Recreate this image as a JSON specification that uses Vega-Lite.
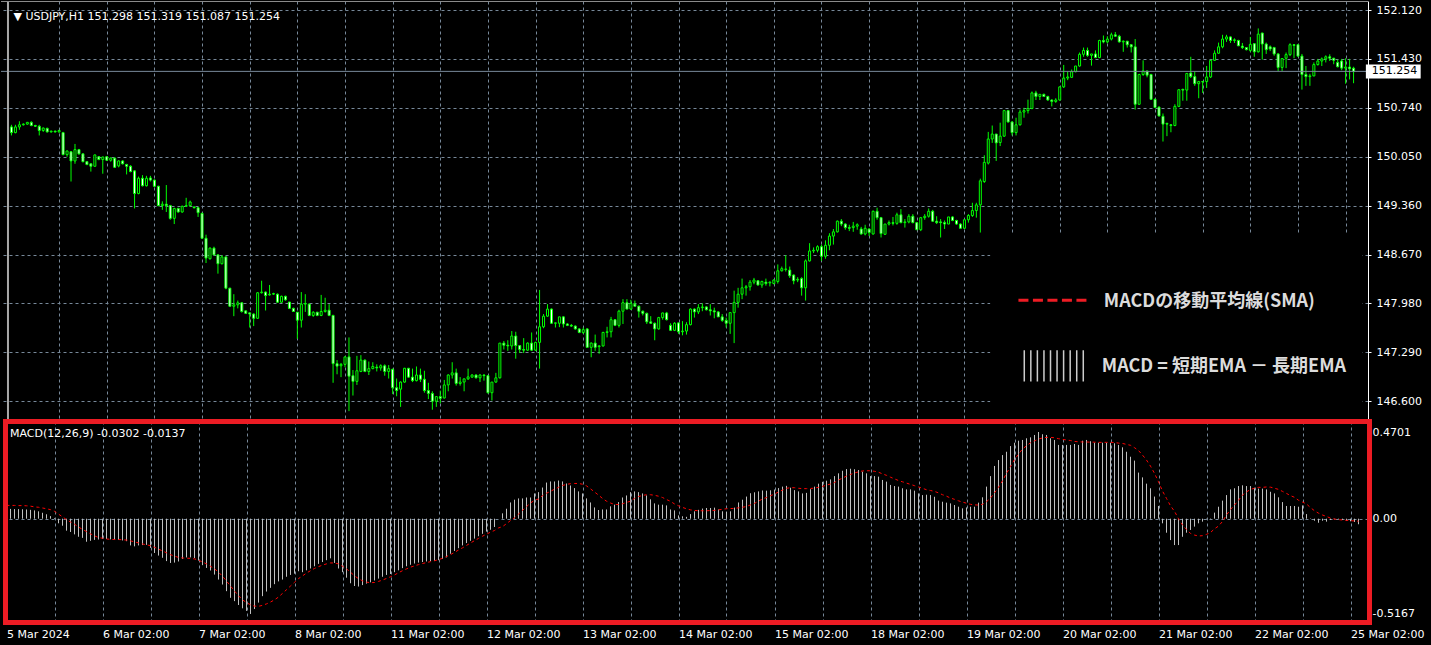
{
"$schema": "https://vega.github.io/schema/vega-lite/v6.json",
"background": "#000000",
"padding": {"left": 0, "top": 0, "right": 12, "bottom": 14},
"spacing": 2,
"bounds": "flush",
"config": {
  "view": {"stroke": null},
  "axis": {"labelFont": "DejaVu Sans", "labelFontSize": 11, "labelColor": "#ffffff", "gridColor": "#778899", "gridDash": [3, 3], "gridWidth": 1, "gridOpacity": 1, "domainColor": "#ffffff", "tickColor": "#ffffff"}
},
"datasets": {"bars": [
{"i":0,"o":150.47,"h":150.5,"l":150.35,"c":150.39,"m":0.053,"s":0.072},
{"i":1,"o":150.39,"h":150.5,"l":150.38,"c":150.47,"m":0.053,"s":0.072},
{"i":2,"o":150.47,"h":150.55,"l":150.43,"c":150.5,"m":0.052,"s":0.072},
{"i":3,"o":150.5,"h":150.52,"l":150.49,"c":150.51,"m":0.052,"s":0.071},
{"i":4,"o":150.51,"h":150.54,"l":150.5,"c":150.535,"m":0.051,"s":0.071},
{"i":5,"o":150.535,"h":150.55,"l":150.48,"c":150.49,"m":0.05,"s":0.07},
{"i":6,"o":150.49,"h":150.5,"l":150.47,"c":150.48,"m":0.048,"s":0.068},
{"i":7,"o":150.48,"h":150.5,"l":150.35,"c":150.42,"m":0.045,"s":0.064},
{"i":8,"o":150.42,"h":150.46,"l":150.4,"c":150.455,"m":0.04,"s":0.062},
{"i":9,"o":150.45,"h":150.46,"l":150.39,"c":150.4,"m":0.032,"s":0.058},
{"i":10,"o":150.4,"h":150.42,"l":150.39,"c":150.41,"m":0.024,"s":0.054},
{"i":11,"o":150.41,"h":150.42,"l":150.39,"c":150.4,"m":0.014,"s":0.049},
{"i":12,"o":150.4,"h":150.43,"l":150.39,"c":150.42,"m":0.004,"s":0.04},
{"i":13,"o":150.39,"h":150.4,"l":150.07,"c":150.08,"m":-0.025,"s":0.025},
{"i":14,"o":150.08,"h":150.14,"l":150.05,"c":150.13,"m":-0.038,"s":0.01},
{"i":15,"o":150.12,"h":150.13,"l":149.7,"c":149.99,"m":-0.065,"s":-0.005},
{"i":16,"o":149.99,"h":150.23,"l":149.95,"c":150.15,"m":-0.072,"s":-0.018},
{"i":17,"o":150.15,"h":150.16,"l":150.08,"c":150.09,"m":-0.085,"s":-0.03},
{"i":18,"o":150.09,"h":150.1,"l":149.97,"c":149.98,"m":-0.098,"s":-0.045},
{"i":19,"o":149.98,"h":149.99,"l":149.93,"c":149.94,"m":-0.104,"s":-0.058},
{"i":20,"o":149.95,"h":149.96,"l":149.84,"c":149.915,"m":-0.125,"s":-0.07},
{"i":21,"o":149.915,"h":150.08,"l":149.91,"c":150.075,"m":-0.12,"s":-0.082},
{"i":22,"o":150.05,"h":150.06,"l":150.0,"c":150.01,"m":-0.115,"s":-0.093},
{"i":23,"o":150.01,"h":150.05,"l":149.81,"c":150.046,"m":-0.113,"s":-0.102},
{"i":24,"o":150.05,"h":150.06,"l":149.99,"c":150.0,"m":-0.11,"s":-0.106},
{"i":25,"o":150.0,"h":150.04,"l":149.98,"c":150.03,"m":-0.11,"s":-0.11},
{"i":26,"o":150.03,"h":150.04,"l":149.89,"c":149.9,"m":-0.112,"s":-0.112},
{"i":27,"o":149.92,"h":150.0,"l":149.9,"c":149.99,"m":-0.113,"s":-0.113},
{"i":28,"o":149.99,"h":150.0,"l":149.94,"c":149.95,"m":-0.115,"s":-0.113},
{"i":29,"o":149.94,"h":149.95,"l":149.8,"c":149.915,"m":-0.118,"s":-0.114},
{"i":30,"o":149.915,"h":149.93,"l":149.83,"c":149.84,"m":-0.122,"s":-0.116},
{"i":31,"o":149.85,"h":149.86,"l":149.32,"c":149.53,"m":-0.145,"s":-0.12},
{"i":32,"o":149.53,"h":149.77,"l":149.52,"c":149.746,"m":-0.15,"s":-0.126},
{"i":33,"o":149.746,"h":149.79,"l":149.63,"c":149.64,"m":-0.145,"s":-0.131},
{"i":34,"o":149.64,"h":149.78,"l":149.63,"c":149.746,"m":-0.143,"s":-0.137},
{"i":35,"o":149.75,"h":149.78,"l":149.7,"c":149.72,"m":-0.142,"s":-0.142},
{"i":36,"o":149.72,"h":149.73,"l":149.62,"c":149.633,"m":-0.158,"s":-0.146},
{"i":37,"o":149.633,"h":149.64,"l":149.35,"c":149.36,"m":-0.186,"s":-0.155},
{"i":38,"o":149.36,"h":149.42,"l":149.3,"c":149.38,"m":-0.2,"s":-0.165},
{"i":39,"o":149.38,"h":149.65,"l":149.27,"c":149.36,"m":-0.212,"s":-0.175},
{"i":40,"o":149.36,"h":149.37,"l":149.16,"c":149.18,"m":-0.23,"s":-0.185},
{"i":41,"o":149.18,"h":149.33,"l":149.1,"c":149.32,"m":-0.24,"s":-0.195},
{"i":42,"o":149.32,"h":149.33,"l":149.26,"c":149.27,"m":-0.238,"s":-0.203},
{"i":43,"o":149.27,"h":149.36,"l":149.26,"c":149.35,"m":-0.232,"s":-0.21},
{"i":44,"o":149.35,"h":149.47,"l":149.34,"c":149.36,"m":-0.218,"s":-0.213},
{"i":45,"o":149.36,"h":149.43,"l":149.35,"c":149.41,"m":-0.21,"s":-0.214},
{"i":46,"o":149.34,"h":149.35,"l":149.32,"c":149.33,"m":-0.21,"s":-0.215},
{"i":47,"o":149.33,"h":149.34,"l":149.2,"c":149.26,"m":-0.213,"s":-0.218},
{"i":48,"o":149.25,"h":149.26,"l":148.89,"c":148.9,"m":-0.227,"s":-0.225},
{"i":49,"o":148.9,"h":148.95,"l":148.55,"c":148.62,"m":-0.252,"s":-0.235},
{"i":50,"o":148.61,"h":148.77,"l":148.6,"c":148.76,"m":-0.267,"s":-0.245},
{"i":51,"o":148.76,"h":148.78,"l":148.66,"c":148.665,"m":-0.281,"s":-0.258},
{"i":52,"o":148.665,"h":148.67,"l":148.4,"c":148.54,"m":-0.303,"s":-0.272},
{"i":53,"o":148.54,"h":148.66,"l":148.53,"c":148.636,"m":-0.33,"s":-0.29},
{"i":54,"o":148.636,"h":148.64,"l":148.18,"c":148.195,"m":-0.357,"s":-0.312},
{"i":55,"o":148.195,"h":148.2,"l":147.93,"c":147.94,"m":-0.393,"s":-0.338},
{"i":56,"o":147.94,"h":148.11,"l":147.8,"c":147.96,"m":-0.429,"s":-0.365},
{"i":57,"o":147.96,"h":148.02,"l":147.91,"c":147.988,"m":-0.447,"s":-0.392},
{"i":58,"o":147.988,"h":148.0,"l":147.85,"c":147.866,"m":-0.468,"s":-0.418},
{"i":59,"o":147.875,"h":147.88,"l":147.83,"c":147.84,"m":-0.486,"s":-0.44},
{"i":60,"o":147.847,"h":147.85,"l":147.64,"c":147.83,"m":-0.5,"s":-0.455},
{"i":61,"o":147.83,"h":147.84,"l":147.66,"c":147.77,"m":-0.5167,"s":-0.467},
{"i":62,"o":147.77,"h":148.14,"l":147.76,"c":148.13,"m":-0.49,"s":-0.474},
{"i":63,"o":148.13,"h":148.3,"l":148.12,"c":148.14,"m":-0.455,"s":-0.475},
{"i":64,"o":148.14,"h":148.15,"l":147.88,"c":148.09,"m":-0.42,"s":-0.47},
{"i":65,"o":148.1,"h":148.24,"l":148.09,"c":148.11,"m":-0.395,"s":-0.462},
{"i":66,"o":148.11,"h":148.13,"l":148.1,"c":148.12,"m":-0.375,"s":-0.452},
{"i":67,"o":148.11,"h":148.12,"l":147.99,"c":147.997,"m":-0.355,"s":-0.44},
{"i":68,"o":147.997,"h":148.09,"l":147.99,"c":148.08,"m":-0.34,"s":-0.425},
{"i":69,"o":148.08,"h":148.09,"l":148.02,"c":148.03,"m":-0.33,"s":-0.405},
{"i":70,"o":148.0,"h":148.0,"l":147.9,"c":147.91,"m":-0.315,"s":-0.385},
{"i":71,"o":147.91,"h":147.92,"l":147.86,"c":147.866,"m":-0.305,"s":-0.365},
{"i":72,"o":147.856,"h":147.86,"l":147.48,"c":147.743,"m":-0.298,"s":-0.345},
{"i":73,"o":147.743,"h":148.14,"l":147.64,"c":147.97,"m":-0.285,"s":-0.325},
{"i":74,"o":147.97,"h":148.11,"l":147.86,"c":147.978,"m":-0.29,"s":-0.31},
{"i":75,"o":147.97,"h":147.98,"l":147.8,"c":147.81,"m":-0.28,"s":-0.295},
{"i":76,"o":147.81,"h":147.87,"l":147.79,"c":147.856,"m":-0.27,"s":-0.282},
{"i":77,"o":147.856,"h":147.86,"l":147.8,"c":147.81,"m":-0.258,"s":-0.27},
{"i":78,"o":147.81,"h":148.1,"l":147.8,"c":147.866,"m":-0.245,"s":-0.26},
{"i":79,"o":147.866,"h":148.06,"l":147.85,"c":147.884,"m":-0.235,"s":-0.252},
{"i":80,"o":147.884,"h":147.97,"l":147.8,"c":147.81,"m":-0.225,"s":-0.245},
{"i":81,"o":147.81,"h":147.82,"l":146.86,"c":147.13,"m":-0.215,"s":-0.24},
{"i":82,"o":147.13,"h":147.18,"l":146.98,"c":147.095,"m":-0.24,"s":-0.24},
{"i":83,"o":147.1,"h":147.14,"l":146.94,"c":147.12,"m":-0.27,"s":-0.245},
{"i":84,"o":147.12,"h":147.23,"l":147.08,"c":147.225,"m":-0.29,"s":-0.258},
{"i":85,"o":147.225,"h":147.5,"l":146.46,"c":146.953,"m":-0.32,"s":-0.272},
{"i":86,"o":146.96,"h":147.04,"l":146.68,"c":146.88,"m":-0.35,"s":-0.29},
{"i":87,"o":146.88,"h":147.24,"l":146.83,"c":147.03,"m":-0.365,"s":-0.31},
{"i":88,"o":147.02,"h":147.25,"l":147.01,"c":147.18,"m":-0.368,"s":-0.325},
{"i":89,"o":147.18,"h":147.19,"l":147.01,"c":147.02,"m":-0.36,"s":-0.337},
{"i":90,"o":147.02,"h":147.16,"l":146.97,"c":147.06,"m":-0.352,"s":-0.344},
{"i":91,"o":147.06,"h":147.15,"l":147.05,"c":147.09,"m":-0.345,"s":-0.347},
{"i":92,"o":147.08,"h":147.12,"l":147.02,"c":147.07,"m":-0.335,"s":-0.346},
{"i":93,"o":147.07,"h":147.12,"l":147.03,"c":147.1,"m":-0.325,"s":-0.34},
{"i":94,"o":147.1,"h":147.12,"l":146.96,"c":147.02,"m":-0.315,"s":-0.333},
{"i":95,"o":147.02,"h":147.11,"l":146.92,"c":147.06,"m":-0.305,"s":-0.324},
{"i":96,"o":147.05,"h":147.06,"l":146.7,"c":146.79,"m":-0.3,"s":-0.315},
{"i":97,"o":146.79,"h":146.92,"l":146.67,"c":146.75,"m":-0.29,"s":-0.305},
{"i":98,"o":146.77,"h":146.88,"l":146.52,"c":146.87,"m":-0.28,"s":-0.293},
{"i":99,"o":146.87,"h":147.07,"l":146.86,"c":147.065,"m":-0.268,"s":-0.282},
{"i":100,"o":147.065,"h":147.07,"l":146.93,"c":146.94,"m":-0.258,"s":-0.272},
{"i":101,"o":146.94,"h":147.06,"l":146.87,"c":146.89,"m":-0.25,"s":-0.263},
{"i":102,"o":146.89,"h":147.09,"l":146.88,"c":146.97,"m":-0.243,"s":-0.256},
{"i":103,"o":146.97,"h":147.06,"l":146.87,"c":146.91,"m":-0.238,"s":-0.249},
{"i":104,"o":146.91,"h":147.03,"l":146.72,"c":146.75,"m":-0.235,"s":-0.243},
{"i":105,"o":146.75,"h":146.86,"l":146.63,"c":146.71,"m":-0.232,"s":-0.238},
{"i":106,"o":146.71,"h":146.74,"l":146.48,"c":146.6,"m":-0.23,"s":-0.233},
{"i":107,"o":146.6,"h":146.67,"l":146.52,"c":146.665,"m":-0.228,"s":-0.228},
{"i":108,"o":146.665,"h":146.75,"l":146.57,"c":146.64,"m":-0.225,"s":-0.222},
{"i":109,"o":146.645,"h":146.9,"l":146.64,"c":146.83,"m":-0.218,"s":-0.215},
{"i":110,"o":146.83,"h":146.98,"l":146.74,"c":146.97,"m":-0.21,"s":-0.205},
{"i":111,"o":146.97,"h":147.15,"l":146.92,"c":147.0,"m":-0.19,"s":-0.195},
{"i":112,"o":147.0,"h":147.06,"l":146.82,"c":146.85,"m":-0.175,"s":-0.183},
{"i":113,"o":146.85,"h":146.94,"l":146.82,"c":146.87,"m":-0.16,"s":-0.17},
{"i":114,"o":146.87,"h":146.92,"l":146.74,"c":146.915,"m":-0.145,"s":-0.158},
{"i":115,"o":146.915,"h":147.06,"l":146.9,"c":146.943,"m":-0.132,"s":-0.145},
{"i":116,"o":146.94,"h":146.98,"l":146.93,"c":146.97,"m":-0.12,"s":-0.132},
{"i":117,"o":146.97,"h":146.98,"l":146.92,"c":146.93,"m":-0.108,"s":-0.119},
{"i":118,"o":146.93,"h":146.98,"l":146.87,"c":146.97,"m":-0.095,"s":-0.107},
{"i":119,"o":146.97,"h":146.98,"l":146.89,"c":146.96,"m":-0.082,"s":-0.095},
{"i":120,"o":146.96,"h":146.97,"l":146.71,"c":146.72,"m":-0.07,"s":-0.084},
{"i":121,"o":146.72,"h":146.87,"l":146.61,"c":146.87,"m":-0.06,"s":-0.073},
{"i":122,"o":146.87,"h":147.0,"l":146.86,"c":146.93,"m":-0.045,"s":-0.064},
{"i":123,"o":146.93,"h":147.42,"l":146.92,"c":147.42,"m":0.0,"s":-0.05},
{"i":124,"o":147.42,"h":147.45,"l":147.33,"c":147.39,"m":0.029,"s":-0.043},
{"i":125,"o":147.39,"h":147.46,"l":147.31,"c":147.38,"m":0.054,"s":-0.027},
{"i":126,"o":147.38,"h":147.59,"l":147.33,"c":147.52,"m":0.088,"s":-0.01},
{"i":127,"o":147.52,"h":147.58,"l":147.2,"c":147.385,"m":0.103,"s":0.005},
{"i":128,"o":147.385,"h":147.39,"l":147.28,"c":147.33,"m":0.11,"s":0.025},
{"i":129,"o":147.33,"h":147.49,"l":147.28,"c":147.32,"m":0.11,"s":0.045},
{"i":130,"o":147.32,"h":147.43,"l":147.31,"c":147.42,"m":0.115,"s":0.065},
{"i":131,"o":147.42,"h":147.57,"l":147.31,"c":147.32,"m":0.115,"s":0.085},
{"i":132,"o":147.32,"h":147.44,"l":147.31,"c":147.43,"m":0.137,"s":0.1},
{"i":133,"o":147.43,"h":148.17,"l":147.06,"c":147.65,"m":0.144,"s":0.107},
{"i":134,"o":147.65,"h":147.83,"l":147.63,"c":147.8,"m":0.169,"s":0.125},
{"i":135,"o":147.8,"h":147.97,"l":147.79,"c":147.9,"m":0.196,"s":0.138},
{"i":136,"o":147.9,"h":147.91,"l":147.69,"c":147.7,"m":0.202,"s":0.148},
{"i":137,"o":147.7,"h":147.71,"l":147.64,"c":147.705,"m":0.202,"s":0.16},
{"i":138,"o":147.7,"h":147.79,"l":147.645,"c":147.79,"m":0.207,"s":0.17},
{"i":139,"o":147.79,"h":147.8,"l":147.64,"c":147.69,"m":0.202,"s":0.18},
{"i":140,"o":147.69,"h":147.7,"l":147.66,"c":147.67,"m":0.191,"s":0.186},
{"i":141,"o":147.67,"h":147.69,"l":147.65,"c":147.66,"m":0.18,"s":0.19},
{"i":142,"o":147.66,"h":147.67,"l":147.61,"c":147.62,"m":0.166,"s":0.191},
{"i":143,"o":147.62,"h":147.63,"l":147.56,"c":147.57,"m":0.148,"s":0.191},
{"i":144,"o":147.57,"h":147.64,"l":147.55,"c":147.61,"m":0.137,"s":0.187},
{"i":145,"o":147.62,"h":147.63,"l":147.36,"c":147.36,"m":0.11,"s":0.178},
{"i":146,"o":147.36,"h":147.43,"l":147.22,"c":147.42,"m":0.088,"s":0.162},
{"i":147,"o":147.42,"h":147.54,"l":147.31,"c":147.36,"m":0.061,"s":0.145},
{"i":148,"o":147.37,"h":147.39,"l":147.27,"c":147.38,"m":0.047,"s":0.128},
{"i":149,"o":147.38,"h":147.58,"l":147.37,"c":147.57,"m":0.05,"s":0.11},
{"i":150,"o":147.57,"h":147.65,"l":147.5,"c":147.58,"m":0.05,"s":0.095},
{"i":151,"o":147.58,"h":147.79,"l":147.5,"c":147.75,"m":0.067,"s":0.085},
{"i":152,"o":147.75,"h":147.76,"l":147.66,"c":147.67,"m":0.076,"s":0.077},
{"i":153,"o":147.67,"h":147.89,"l":147.64,"c":147.87,"m":0.09,"s":0.077},
{"i":154,"o":147.87,"h":148.04,"l":147.69,"c":147.99,"m":0.115,"s":0.081},
{"i":155,"o":147.99,"h":148.04,"l":147.9,"c":147.9,"m":0.126,"s":0.088},
{"i":156,"o":147.9,"h":148.03,"l":147.89,"c":147.98,"m":0.144,"s":0.095},
{"i":157,"o":147.97,"h":148.02,"l":147.94,"c":147.94,"m":0.148,"s":0.11},
{"i":158,"o":147.94,"h":147.95,"l":147.78,"c":147.87,"m":0.144,"s":0.12},
{"i":159,"o":147.87,"h":147.88,"l":147.81,"c":147.84,"m":0.137,"s":0.126},
{"i":160,"o":147.84,"h":147.85,"l":147.69,"c":147.72,"m":0.126,"s":0.13},
{"i":161,"o":147.72,"h":147.8,"l":147.69,"c":147.7,"m":0.105,"s":0.13},
{"i":162,"o":147.7,"h":147.71,"l":147.46,"c":147.62,"m":0.083,"s":0.127},
{"i":163,"o":147.62,"h":147.79,"l":147.61,"c":147.78,"m":0.076,"s":0.122},
{"i":164,"o":147.78,"h":147.85,"l":147.75,"c":147.845,"m":0.076,"s":0.115},
{"i":165,"o":147.845,"h":147.86,"l":147.74,"c":147.75,"m":0.072,"s":0.104},
{"i":166,"o":147.67,"h":147.7,"l":147.59,"c":147.6,"m":0.05,"s":0.094},
{"i":167,"o":147.6,"h":147.715,"l":147.59,"c":147.7,"m":0.045,"s":0.08},
{"i":168,"o":147.705,"h":147.71,"l":147.55,"c":147.58,"m":0.018,"s":0.07},
{"i":169,"o":147.58,"h":147.73,"l":147.53,"c":147.59,"m":0.013,"s":0.061},
{"i":170,"o":147.59,"h":147.715,"l":147.54,"c":147.68,"m":0.01,"s":0.054},
{"i":171,"o":147.68,"h":147.91,"l":147.67,"c":147.9,"m":0.025,"s":0.048},
{"i":172,"o":147.9,"h":147.91,"l":147.78,"c":147.86,"m":0.04,"s":0.045},
{"i":173,"o":147.86,"h":147.97,"l":147.83,"c":147.92,"m":0.048,"s":0.043},
{"i":174,"o":147.92,"h":147.98,"l":147.87,"c":147.93,"m":0.055,"s":0.043},
{"i":175,"o":147.93,"h":147.94,"l":147.88,"c":147.89,"m":0.058,"s":0.043},
{"i":176,"o":147.89,"h":147.97,"l":147.81,"c":147.875,"m":0.058,"s":0.044},
{"i":177,"o":147.875,"h":147.92,"l":147.77,"c":147.86,"m":0.06,"s":0.045},
{"i":178,"o":147.86,"h":147.87,"l":147.79,"c":147.79,"m":0.05,"s":0.048},
{"i":179,"o":147.79,"h":147.83,"l":147.72,"c":147.74,"m":0.04,"s":0.051},
{"i":180,"o":147.74,"h":147.78,"l":147.64,"c":147.7,"m":0.037,"s":0.054},
{"i":181,"o":147.7,"h":147.85,"l":147.55,"c":147.85,"m":0.04,"s":0.055},
{"i":182,"o":147.85,"h":148.16,"l":147.42,"c":147.995,"m":0.06,"s":0.056},
{"i":183,"o":147.995,"h":148.2,"l":147.92,"c":148.11,"m":0.088,"s":0.059},
{"i":184,"o":148.11,"h":148.33,"l":148.04,"c":148.2,"m":0.103,"s":0.062},
{"i":185,"o":148.2,"h":148.24,"l":148.09,"c":148.215,"m":0.12,"s":0.066},
{"i":186,"o":148.215,"h":148.31,"l":148.16,"c":148.28,"m":0.138,"s":0.075},
{"i":187,"o":148.28,"h":148.34,"l":148.25,"c":148.31,"m":0.143,"s":0.083},
{"i":188,"o":148.3,"h":148.31,"l":148.23,"c":148.24,"m":0.148,"s":0.095},
{"i":189,"o":148.24,"h":148.3,"l":148.2,"c":148.29,"m":0.153,"s":0.107},
{"i":190,"o":148.28,"h":148.33,"l":148.23,"c":148.26,"m":0.152,"s":0.115},
{"i":191,"o":148.27,"h":148.29,"l":148.22,"c":148.28,"m":0.154,"s":0.125},
{"i":192,"o":148.26,"h":148.32,"l":148.25,"c":148.31,"m":0.158,"s":0.133},
{"i":193,"o":148.29,"h":148.53,"l":148.26,"c":148.44,"m":0.166,"s":0.145},
{"i":194,"o":148.44,"h":148.5,"l":148.43,"c":148.47,"m":0.174,"s":0.155},
{"i":195,"o":148.46,"h":148.66,"l":148.43,"c":148.465,"m":0.178,"s":0.165},
{"i":196,"o":148.45,"h":148.5,"l":148.34,"c":148.37,"m":0.168,"s":0.168},
{"i":197,"o":148.38,"h":148.39,"l":148.25,"c":148.3,"m":0.155,"s":0.168},
{"i":198,"o":148.31,"h":148.35,"l":148.28,"c":148.32,"m":0.148,"s":0.165},
{"i":199,"o":148.33,"h":148.35,"l":148.09,"c":148.2,"m":0.137,"s":0.163},
{"i":200,"o":148.2,"h":148.6,"l":148.02,"c":148.58,"m":0.14,"s":0.163},
{"i":201,"o":148.58,"h":148.83,"l":148.57,"c":148.72,"m":0.16,"s":0.164},
{"i":202,"o":148.72,"h":148.77,"l":148.69,"c":148.73,"m":0.174,"s":0.166},
{"i":203,"o":148.73,"h":148.8,"l":148.7,"c":148.78,"m":0.19,"s":0.17},
{"i":204,"o":148.78,"h":148.81,"l":148.58,"c":148.645,"m":0.2,"s":0.175},
{"i":205,"o":148.645,"h":148.87,"l":148.61,"c":148.8,"m":0.206,"s":0.182},
{"i":206,"o":148.8,"h":148.97,"l":148.73,"c":148.93,"m":0.213,"s":0.188},
{"i":207,"o":148.93,"h":149.03,"l":148.81,"c":148.99,"m":0.231,"s":0.196},
{"i":208,"o":148.99,"h":149.15,"l":148.98,"c":149.14,"m":0.246,"s":0.21},
{"i":209,"o":149.14,"h":149.17,"l":149.07,"c":149.1,"m":0.26,"s":0.22},
{"i":210,"o":149.1,"h":149.11,"l":149.02,"c":149.05,"m":0.269,"s":0.231},
{"i":211,"o":149.05,"h":149.09,"l":149.0,"c":149.04,"m":0.271,"s":0.24},
{"i":212,"o":149.05,"h":149.13,"l":148.99,"c":149.07,"m":0.268,"s":0.248},
{"i":213,"o":149.07,"h":149.11,"l":149.02,"c":149.09,"m":0.264,"s":0.254},
{"i":214,"o":149.03,"h":149.06,"l":148.95,"c":148.96,"m":0.255,"s":0.259},
{"i":215,"o":148.96,"h":149.09,"l":148.94,"c":149.04,"m":0.246,"s":0.26},
{"i":216,"o":149.03,"h":149.04,"l":148.93,"c":148.98,"m":0.231,"s":0.26},
{"i":217,"o":148.96,"h":149.29,"l":148.95,"c":149.28,"m":0.231,"s":0.257},
{"i":218,"o":149.28,"h":149.33,"l":149.16,"c":149.19,"m":0.228,"s":0.252},
{"i":219,"o":149.19,"h":149.2,"l":148.91,"c":148.965,"m":0.21,"s":0.243},
{"i":220,"o":148.955,"h":149.1,"l":148.95,"c":149.1,"m":0.201,"s":0.235},
{"i":221,"o":149.1,"h":149.15,"l":149.08,"c":149.12,"m":0.183,"s":0.225},
{"i":222,"o":149.12,"h":149.2,"l":149.08,"c":149.11,"m":0.177,"s":0.216},
{"i":223,"o":149.11,"h":149.26,"l":149.09,"c":149.23,"m":0.174,"s":0.207},
{"i":224,"o":149.23,"h":149.31,"l":149.11,"c":149.12,"m":0.165,"s":0.2},
{"i":225,"o":149.12,"h":149.17,"l":149.05,"c":149.13,"m":0.159,"s":0.193},
{"i":226,"o":149.13,"h":149.24,"l":149.11,"c":149.21,"m":0.159,"s":0.186},
{"i":227,"o":149.21,"h":149.24,"l":149.11,"c":149.12,"m":0.152,"s":0.179},
{"i":228,"o":149.12,"h":149.13,"l":149.02,"c":149.02,"m":0.137,"s":0.172},
{"i":229,"o":149.02,"h":149.2,"l":149.0,"c":149.19,"m":0.128,"s":0.165},
{"i":230,"o":149.19,"h":149.24,"l":149.16,"c":149.21,"m":0.13,"s":0.157},
{"i":231,"o":149.21,"h":149.32,"l":149.19,"c":149.28,"m":0.128,"s":0.153},
{"i":232,"o":149.28,"h":149.3,"l":149.13,"c":149.14,"m":0.119,"s":0.148},
{"i":233,"o":149.14,"h":149.21,"l":149.1,"c":149.12,"m":0.098,"s":0.14},
{"i":234,"o":149.13,"h":149.17,"l":148.91,"c":149.12,"m":0.092,"s":0.13},
{"i":235,"o":149.12,"h":149.15,"l":149.03,"c":149.1,"m":0.087,"s":0.122},
{"i":236,"o":149.1,"h":149.2,"l":149.1,"c":149.2,"m":0.083,"s":0.112},
{"i":237,"o":149.2,"h":149.21,"l":149.14,"c":149.15,"m":0.074,"s":0.105},
{"i":238,"o":149.15,"h":149.16,"l":149.09,"c":149.1,"m":0.065,"s":0.097},
{"i":239,"o":149.1,"h":149.11,"l":149.04,"c":149.04,"m":0.056,"s":0.09},
{"i":240,"o":149.04,"h":149.17,"l":149.03,"c":149.16,"m":0.061,"s":0.084},
{"i":241,"o":149.16,"h":149.24,"l":149.12,"c":149.22,"m":0.065,"s":0.078},
{"i":242,"o":149.22,"h":149.4,"l":149.2,"c":149.29,"m":0.065,"s":0.075},
{"i":243,"o":149.29,"h":149.4,"l":149.19,"c":149.37,"m":0.087,"s":0.074},
{"i":244,"o":149.37,"h":149.74,"l":148.98,"c":149.71,"m":0.116,"s":0.078},
{"i":245,"o":149.7,"h":150.07,"l":149.68,"c":149.97,"m":0.174,"s":0.092},
{"i":246,"o":149.96,"h":150.4,"l":149.94,"c":150.3,"m":0.231,"s":0.112},
{"i":247,"o":150.3,"h":150.49,"l":150.245,"c":150.37,"m":0.286,"s":0.14},
{"i":248,"o":150.37,"h":150.37,"l":149.99,"c":150.245,"m":0.318,"s":0.17},
{"i":249,"o":150.25,"h":150.53,"l":150.2,"c":150.34,"m":0.345,"s":0.205},
{"i":250,"o":150.34,"h":150.71,"l":150.33,"c":150.7,"m":0.363,"s":0.246},
{"i":251,"o":150.7,"h":150.71,"l":150.53,"c":150.54,"m":0.394,"s":0.283},
{"i":252,"o":150.54,"h":150.55,"l":150.35,"c":150.39,"m":0.412,"s":0.32},
{"i":253,"o":150.39,"h":150.6,"l":150.35,"c":150.5,"m":0.423,"s":0.35},
{"i":254,"o":150.5,"h":150.715,"l":150.49,"c":150.68,"m":0.427,"s":0.378},
{"i":255,"o":150.68,"h":150.74,"l":150.6,"c":150.7,"m":0.436,"s":0.395},
{"i":256,"o":150.7,"h":150.855,"l":150.66,"c":150.73,"m":0.441,"s":0.412},
{"i":257,"o":150.73,"h":150.97,"l":150.72,"c":150.95,"m":0.454,"s":0.422},
{"i":258,"o":150.95,"h":150.98,"l":150.85,"c":150.9,"m":0.4701,"s":0.432},
{"i":259,"o":150.9,"h":150.93,"l":150.85,"c":150.93,"m":0.458,"s":0.438},
{"i":260,"o":150.93,"h":150.94,"l":150.9,"c":150.9,"m":0.454,"s":0.441},
{"i":261,"o":150.9,"h":150.91,"l":150.84,"c":150.85,"m":0.436,"s":0.441},
{"i":262,"o":150.85,"h":150.86,"l":150.76,"c":150.83,"m":0.427,"s":0.439},
{"i":263,"o":150.83,"h":150.875,"l":150.81,"c":150.85,"m":0.4,"s":0.434},
{"i":264,"o":150.85,"h":151.04,"l":150.84,"c":151.035,"m":0.4,"s":0.43},
{"i":265,"o":151.035,"h":151.345,"l":151.02,"c":151.16,"m":0.4,"s":0.427},
{"i":266,"o":151.16,"h":151.25,"l":151.13,"c":151.175,"m":0.4,"s":0.424},
{"i":267,"o":151.17,"h":151.28,"l":151.16,"c":151.25,"m":0.405,"s":0.419},
{"i":268,"o":151.25,"h":151.33,"l":151.24,"c":151.33,"m":0.4,"s":0.417},
{"i":269,"o":151.33,"h":151.52,"l":151.32,"c":151.495,"m":0.423,"s":0.416},
{"i":270,"o":151.495,"h":151.59,"l":151.46,"c":151.55,"m":0.427,"s":0.416},
{"i":271,"o":151.55,"h":151.59,"l":151.46,"c":151.48,"m":0.42,"s":0.415},
{"i":272,"o":151.48,"h":151.5,"l":151.335,"c":151.5,"m":0.412,"s":0.415},
{"i":273,"o":151.5,"h":151.55,"l":151.44,"c":151.45,"m":0.412,"s":0.414},
{"i":274,"o":151.45,"h":151.7,"l":151.44,"c":151.69,"m":0.412,"s":0.414},
{"i":275,"o":151.69,"h":151.76,"l":151.65,"c":151.67,"m":0.412,"s":0.414},
{"i":276,"o":151.67,"h":151.75,"l":151.65,"c":151.71,"m":0.412,"s":0.414},
{"i":277,"o":151.71,"h":151.8,"l":151.69,"c":151.77,"m":0.409,"s":0.413},
{"i":278,"o":151.77,"h":151.81,"l":151.74,"c":151.75,"m":0.4,"s":0.41},
{"i":279,"o":151.75,"h":151.77,"l":151.66,"c":151.67,"m":0.387,"s":0.408},
{"i":280,"o":151.67,"h":151.69,"l":151.53,"c":151.68,"m":0.363,"s":0.403},
{"i":281,"o":151.68,"h":151.68,"l":151.59,"c":151.63,"m":0.336,"s":0.398},
{"i":282,"o":151.63,"h":151.64,"l":151.52,"c":151.6,"m":0.315,"s":0.385},
{"i":283,"o":151.6,"h":151.71,"l":150.715,"c":150.79,"m":0.25,"s":0.37},
{"i":284,"o":150.79,"h":151.22,"l":150.78,"c":151.21,"m":0.224,"s":0.345},
{"i":285,"o":151.21,"h":151.41,"l":151.19,"c":151.26,"m":0.19,"s":0.318},
{"i":286,"o":151.26,"h":151.26,"l":151.17,"c":151.2,"m":0.165,"s":0.285},
{"i":287,"o":151.21,"h":151.22,"l":150.85,"c":150.86,"m":0.12,"s":0.246},
{"i":288,"o":150.86,"h":150.87,"l":150.74,"c":150.745,"m":0.069,"s":0.2},
{"i":289,"o":150.75,"h":150.76,"l":150.62,"c":150.625,"m":-0.025,"s":0.15},
{"i":290,"o":150.62,"h":150.66,"l":150.264,"c":150.51,"m":-0.076,"s":0.11},
{"i":291,"o":150.52,"h":150.53,"l":150.34,"c":150.51,"m":-0.116,"s":0.07},
{"i":292,"o":150.5,"h":150.51,"l":150.395,"c":150.49,"m":-0.143,"s":0.04},
{"i":293,"o":150.49,"h":150.79,"l":150.48,"c":150.76,"m":-0.143,"s":0.0},
{"i":294,"o":150.76,"h":151.0,"l":150.75,"c":150.995,"m":-0.098,"s":-0.034},
{"i":295,"o":151.0,"h":151.01,"l":150.84,"c":150.99,"m":-0.076,"s":-0.058},
{"i":296,"o":150.99,"h":151.23,"l":150.84,"c":151.225,"m":-0.061,"s":-0.08},
{"i":297,"o":151.23,"h":151.46,"l":151.16,"c":151.18,"m":-0.043,"s":-0.089},
{"i":298,"o":151.18,"h":151.25,"l":151.05,"c":151.08,"m":-0.025,"s":-0.094},
{"i":299,"o":151.08,"h":151.12,"l":150.875,"c":151.11,"m":-0.016,"s":-0.092},
{"i":300,"o":151.11,"h":151.12,"l":150.95,"c":151.105,"m":-0.004,"s":-0.085},
{"i":301,"o":151.11,"h":151.33,"l":151.02,"c":151.175,"m":0.002,"s":-0.075},
{"i":302,"o":151.175,"h":151.42,"l":151.16,"c":151.41,"m":0.033,"s":-0.055},
{"i":303,"o":151.41,"h":151.55,"l":151.4,"c":151.51,"m":0.065,"s":-0.04},
{"i":304,"o":151.51,"h":151.66,"l":151.5,"c":151.6,"m":0.098,"s":-0.015},
{"i":305,"o":151.6,"h":151.77,"l":151.58,"c":151.71,"m":0.128,"s":0.02},
{"i":306,"o":151.71,"h":151.77,"l":151.67,"c":151.74,"m":0.159,"s":0.05},
{"i":307,"o":151.74,"h":151.745,"l":151.655,"c":151.69,"m":0.165,"s":0.074},
{"i":308,"o":151.69,"h":151.72,"l":151.655,"c":151.7,"m":0.177,"s":0.1},
{"i":309,"o":151.69,"h":151.7,"l":151.61,"c":151.615,"m":0.181,"s":0.128},
{"i":310,"o":151.61,"h":151.655,"l":151.57,"c":151.59,"m":0.177,"s":0.145},
{"i":311,"o":151.59,"h":151.595,"l":151.55,"c":151.56,"m":0.177,"s":0.159},
{"i":312,"o":151.55,"h":151.74,"l":151.53,"c":151.635,"m":0.168,"s":0.165},
{"i":313,"o":151.645,"h":151.65,"l":151.46,"c":151.53,"m":0.163,"s":0.17},
{"i":314,"o":151.53,"h":151.86,"l":151.52,"c":151.78,"m":0.163,"s":0.17},
{"i":315,"o":151.795,"h":151.8,"l":151.42,"c":151.64,"m":0.159,"s":0.172},
{"i":316,"o":151.64,"h":151.66,"l":151.5,"c":151.56,"m":0.146,"s":0.171},
{"i":317,"o":151.6,"h":151.62,"l":151.54,"c":151.57,"m":0.137,"s":0.165},
{"i":318,"o":151.59,"h":151.6,"l":151.475,"c":151.5,"m":0.116,"s":0.159},
{"i":319,"o":151.5,"h":151.51,"l":151.26,"c":151.31,"m":0.09,"s":0.148},
{"i":320,"o":151.31,"h":151.44,"l":151.26,"c":151.435,"m":0.069,"s":0.137},
{"i":321,"o":151.44,"h":151.52,"l":151.3,"c":151.49,"m":0.069,"s":0.125},
{"i":322,"o":151.49,"h":151.65,"l":151.47,"c":151.63,"m":0.069,"s":0.116},
{"i":323,"o":151.63,"h":151.64,"l":151.44,"c":151.62,"m":0.065,"s":0.1},
{"i":324,"o":151.63,"h":151.635,"l":151.46,"c":151.47,"m":0.072,"s":0.09},
{"i":325,"o":151.47,"h":151.5,"l":150.997,"c":151.21,"m":0.025,"s":0.08},
{"i":326,"o":151.21,"h":151.33,"l":151.05,"c":151.18,"m":0.002,"s":0.06},
{"i":327,"o":151.18,"h":151.22,"l":151.05,"c":151.19,"m":-0.011,"s":0.043},
{"i":328,"o":151.19,"h":151.38,"l":151.185,"c":151.35,"m":-0.022,"s":0.03},
{"i":329,"o":151.35,"h":151.43,"l":151.335,"c":151.4,"m":-0.011,"s":0.02},
{"i":330,"o":151.4,"h":151.45,"l":151.33,"c":151.43,"m":-0.016,"s":0.012},
{"i":331,"o":151.43,"h":151.48,"l":151.38,"c":151.46,"m":-0.007,"s":0.003},
{"i":332,"o":151.46,"h":151.495,"l":151.4,"c":151.44,"m":-0.004,"s":-0.002},
{"i":333,"o":151.44,"h":151.445,"l":151.355,"c":151.41,"m":-0.004,"s":-0.005},
{"i":334,"o":151.38,"h":151.42,"l":151.31,"c":151.32,"m":-0.007,"s":-0.007},
{"i":335,"o":151.4,"h":151.43,"l":151.27,"c":151.3,"m":-0.011,"s":-0.009},
{"i":336,"o":151.3,"h":151.44,"l":151.08,"c":151.315,"m":-0.014,"s":-0.011},
{"i":337,"o":151.315,"h":151.43,"l":151.14,"c":151.29,"m":-0.018,"s":-0.012},
{"i":338,"o":151.298,"h":151.319,"l":151.087,"c":151.254,"m":-0.0302,"s":-0.0137}
]},
"vconcat": [
{
  "width": 1367,
  "height": 418,
  "data": {"name": "bars"},
  "resolve": {"axis": {"x": "independent", "y": "independent"}},
  "layer": [
    {
      "mark": {"type": "rule", "color": "#00ff00", "strokeWidth": 1},
      "encoding": {
        "x": {"field": "i", "type": "quantitative", "scale": {"domain": [-1.375, 340.375], "nice": false, "zero": false}, "axis": {"title": null, "orient": "bottom", "values": [12,24,36,48,60,72,84,96,108,120,132,144,156,168,180,192,204,216,228,240,252,264,276,288,300,312,324,336], "labels": false, "ticks": false, "domain": false, "grid": true}},
        "y": {"field": "l", "type": "quantitative", "scale": {"domain": [146.349, 152.247], "nice": false, "zero": false}, "axis": {"title": null, "orient": "right", "values": [146.6, 147.29, 147.98, 148.67, 149.36, 150.05, 150.74, 151.43, 152.12], "format": ".3f", "tickSize": 3, "labelPadding": 5, "domain": true, "domainWidth": 1, "grid": true, "labelFlush": false}},
        "y2": {"field": "h"}
      }
    },
    {
      "mark": {"type": "bar", "width": 2, "stroke": "#00ff00", "strokeWidth": 1},
      "encoding": {
        "x": {"field": "i", "type": "quantitative", "axis": null},
        "y": {"field": "o", "type": "quantitative", "axis": null},
        "y2": {"field": "c"},
        "fill": {"condition": {"test": "datum.c < datum.o", "value": "#ffffff"}, "value": "#000000"}
      }
    },
    {
      "data": {"values": [{}]},
      "mark": {"type": "rect", "color": "#000000"},
      "encoding": {
        "x": {"datum": 246.5, "axis": null},
        "x2": {"datum": 340.2},
        "y": {"datum": 148.959, "axis": null},
        "y2": {"datum": 146.349}
      }
    },
    {
      "data": {"values": [{}]},
      "mark": {"type": "rule", "color": "#778899", "strokeWidth": 1},
      "encoding": {"y": {"datum": 151.254, "axis": null}}
    },
    {
      "data": {"values": [{}]},
      "mark": {"type": "rule", "color": "#a8a8a8", "strokeWidth": 2},
      "encoding": {"x": {"datum": -0.875, "axis": null}}
    },
    {
      "data": {"values": [{}]},
      "mark": {"type": "rule", "color": "#8c8c8c", "strokeWidth": 1},
      "encoding": {"y": {"datum": 152.24, "axis": null}}
    },
    {
      "data": {"values": [{}]},
      "mark": {"type": "text", "text": "▼  USDJPY,H1  151.298 151.319 151.087 151.254", "font": "DejaVu Sans", "fontSize": 11, "color": "#ffffff", "align": "left", "baseline": "middle"},
      "encoding": {"x": {"datum": 0.5, "axis": null}, "y": {"datum": 152.028, "axis": null}}
    },
    {
      "data": {"values": [{}]},
      "mark": {"type": "rule", "color": "#ee1c24", "strokeWidth": 3, "strokeDash": [10, 4.5]},
      "encoding": {"x": {"datum": 253.6, "axis": null}, "x2": {"datum": 271.1}, "y": {"datum": 148.024, "axis": null}}
    },
    {
      "data": {"values": [{}]},
      "mark": {"type": "point", "shape": "M-1,-0.53V0.53M-0.778,-0.53V0.53M-0.556,-0.53V0.53M-0.333,-0.53V0.53M-0.111,-0.53V0.53M0.111,-0.53V0.53M0.333,-0.53V0.53M0.556,-0.53V0.53M0.778,-0.53V0.53M1,-0.53V0.53", "size": 3481, "filled": false, "stroke": "#cccccc", "strokeWidth": 1.5, "opacity": 1},
      "encoding": {"x": {"datum": 262.5, "axis": null}, "y": {"datum": 147.097, "axis": null}}
    },
    {
      "data": {"values": [{}]},
      "mark": {"type": "text", "text": "MACDの移動平均線(SMA)", "font": "Noto Sans CJK JP", "fontWeight": "bold", "fontSize": 18, "color": "#dcdcdc", "align": "left", "baseline": "middle"},
      "encoding": {"x": {"datum": 275.1, "axis": null}, "y": {"datum": 148.0, "axis": null}}
    },
    {
      "data": {"values": [{}]},
      "mark": {"type": "text", "text": "MACD = 短期EMA － 長期EMA", "font": "Noto Sans CJK JP", "fontWeight": "bold", "fontSize": 18, "color": "#dcdcdc", "align": "left", "baseline": "middle"},
      "encoding": {"x": {"datum": 274.6, "axis": null}, "y": {"datum": 147.083, "axis": null}}
    },
    {
      "data": {"values": [{}]},
      "mark": {"type": "rect", "color": "#ffffff"},
      "encoding": {"x": {"datum": 341.1, "axis": null}, "x2": {"datum": 354.9}, "y": {"datum": 151.351, "axis": null}, "y2": {"datum": 151.153}}
    },
    {
      "data": {"values": [{}]},
      "mark": {"type": "text", "text": "151.254", "font": "DejaVu Sans", "fontSize": 11, "color": "#000000", "align": "left", "baseline": "middle"},
      "encoding": {"x": {"datum": 342.6, "axis": null}, "y": {"datum": 151.254, "axis": null}}
    }
  ]
},
{
  "width": 1367,
  "height": 200,
  "data": {"name": "bars"},
  "resolve": {"axis": {"x": "independent", "y": "independent"}},
  "layer": [
    {
      "mark": {"type": "rule", "color": "#c0c0c0", "strokeWidth": 1},
      "encoding": {
        "x": {"field": "i", "type": "quantitative", "scale": {"domain": [-1.375, 340.375], "nice": false, "zero": false}, "axis": {"title": null, "orient": "bottom", "values": [0,12,24,36,48,60,72,84,96,108,120,132,144,156,168,180,192,204,216,228,240,252,264,276,288,300,312,324,336], "labelExpr": "datum.value % 24 === 0 ? ['5 Mar 2024','6 Mar 02:00','7 Mar 02:00','8 Mar 02:00','11 Mar 02:00','12 Mar 02:00','13 Mar 02:00','14 Mar 02:00','15 Mar 02:00','18 Mar 02:00','19 Mar 02:00','20 Mar 02:00','21 Mar 02:00','22 Mar 02:00','25 Mar 02:00'][datum.value / 24] : ''", "labelAlign": "left", "labelBaseline": "top", "labelPadding": 7, "labelFlush": false, "labelOverlap": false, "ticks": false, "domain": false, "grid": true, "gridOpacity": {"condition": {"test": "datum.value === 0", "value": 0}, "value": 1}}},
        "y": {"field": "m", "type": "quantitative", "scale": {"domain": [-0.5548, 0.5298], "nice": false, "zero": false}, "axis": {"title": null, "orient": "right", "values": [-0.5167, 0, 0.4701], "labelExpr": "datum.value === 0 ? '0.00' : '' + datum.value", "ticks": false, "domain": false, "labelPadding": 4, "labelFlush": false, "grid": true, "gridOpacity": {"condition": {"test": "datum.value === 0", "value": 1}, "value": 0}}},
        "y2": {"datum": 0}
      }
    },
    {
      "mark": {"type": "line", "color": "#ff0000", "strokeWidth": 1, "strokeDash": [3, 3]},
      "encoding": {
        "x": {"field": "i", "type": "quantitative", "axis": null},
        "y": {"field": "s", "type": "quantitative", "axis": null}
      }
    },
    {
      "data": {"values": [{}]},
      "mark": {"type": "text", "text": "MACD(12,26,9) -0.0302 -0.0137", "font": "DejaVu Sans", "fontSize": 11, "color": "#ffffff", "align": "left", "baseline": "middle"},
      "encoding": {"x": {"datum": 0.875, "axis": null}, "y": {"datum": 0.4593, "axis": null}}
    },
    {
      "data": {"values": [{}]},
      "mark": {"type": "rect", "filled": false, "color": "#ec1c24", "strokeWidth": 5},
      "encoding": {"x": {"datum": -0.25, "axis": null}, "x2": {"datum": 340.75}, "y": {"datum": 0.5271, "axis": null}, "y2": {"datum": -0.5629}}
    }
  ]
}
]
}
